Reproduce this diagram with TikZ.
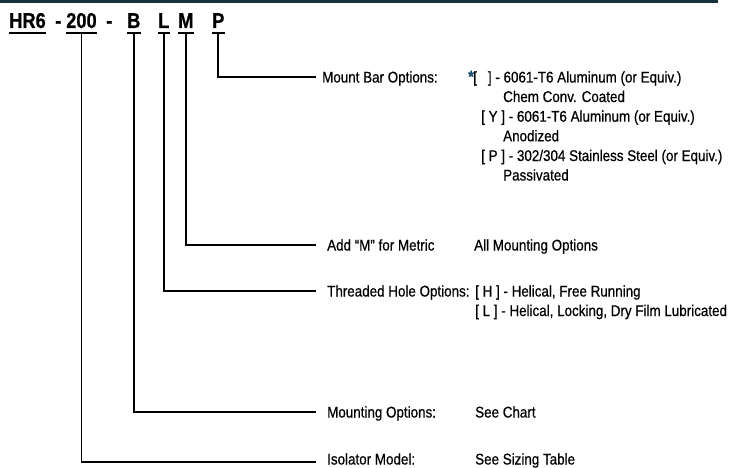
\documentclass[tikz,border=0pt]{standalone}
\usepackage{fontspec}
\setmainfont{Liberation Sans}[FakeStretch=0.865, FakeBold=0.6]
\newfontfamily\codefont{Liberation Sans}[FakeStretch=0.85, FakeBold=0.8]
\definecolor{barcol}{HTML}{17323D}
\definecolor{starcol}{HTML}{1D4F6E}
\begin{document}
\begin{tikzpicture}[x=1pt,y=-1pt,
  lbl/.style={anchor=base west, inner sep=0pt, font=\fontsize{15.5}{15.5}\selectfont},
  code/.style={anchor=base west, inner sep=0pt, font=\codefont\fontsize{21.5}{21.5}\selectfont\bfseries},
  wire/.style={line width=1.6pt},
  uline/.style={line width=1.8pt}]
\useasboundingbox (0,0) rectangle (736,468);
\fill[barcol] (0,0) rectangle (718,3.5);
% code
\node[code] (hr) at (9,28) {HR6};
\node[code] (d1) at (55,28) {-};
\node[code] (n200) at (66,28) {200};
\node[code] (d2) at (106,28) {-};
\node[code] (cb) at (127,28) {B};
\node[code] (cl) at (158,28) {L};
\node[code] (cm) at (178,28) {M};
\node[code] (cp) at (212,28) {P};
\foreach \n in {hr,n200,cb,cl,cm,cp}
  \draw[uline] ([yshift=-5pt]\n.base west) -- ([yshift=-5pt]\n.base east);
% connector ends
\coordinate (eP) at (316,77);
\coordinate (eM) at (316,245);
\coordinate (eL) at (316,291);
\coordinate (eB) at (316,412);
\coordinate (e2) at (316,462);
\draw[wire] ([yshift=-5pt]cp.base) |- (eP);
\draw[wire] ([yshift=-5pt]cm.base) |- (eM);
\draw[wire] ([yshift=-5pt]cl.base) |- (eL);
\draw[wire] ([yshift=-5pt]cb.base) |- (eB);
\draw[wire] ([yshift=-5pt]n200.base) |- (e2);
% labels
\node[lbl] (mbo) at (322,82.5) {Mount Bar Options:};
\node[lbl, text=starcol, font=\fontsize{17}{17}\selectfont\bfseries] (star) at (468,82.5) {*};
\node[lbl] (mb1) at (473,82.5) {[\hspace{11pt}] - 6061-T6 Aluminum (or Equiv.)};
\node[lbl] (mb2) at (503,102) {Chem Conv. Coated};
\node[lbl] (mb3) at (481,121.7) {[ Y ] - 6061-T6 Aluminum (or Equiv.)};
\node[lbl] (mb4) at (503,141.3) {Anodized};
\node[lbl] (mb5) at (481,161) {[ P ] - 302/304 Stainless Steel (or Equiv.)};
\node[lbl] (mb6) at (503,180.5) {Passivated};
\node[lbl] (am) at (327,250.5) {Add “M” for Metric};
\node[lbl] (amv) at (474,250.5) {All Mounting Options};
\node[lbl] (th) at (327,296.5) {Threaded Hole Options:};
\node[lbl] (th1) at (475,296.5) {[ H ] - Helical, Free Running};
\node[lbl] (th2) at (475,316) {[ L ] - Helical, Locking, Dry Film Lubricated};
\node[lbl] (mo) at (327,417.5) {Mounting Options:};
\node[lbl] (mov) at (475,417.5) {See Chart};
\node[lbl] (im) at (327,464.5) {Isolator Model:};
\node[lbl] (imv) at (475,464.5) {See Sizing Table};
\end{tikzpicture}
\end{document}
